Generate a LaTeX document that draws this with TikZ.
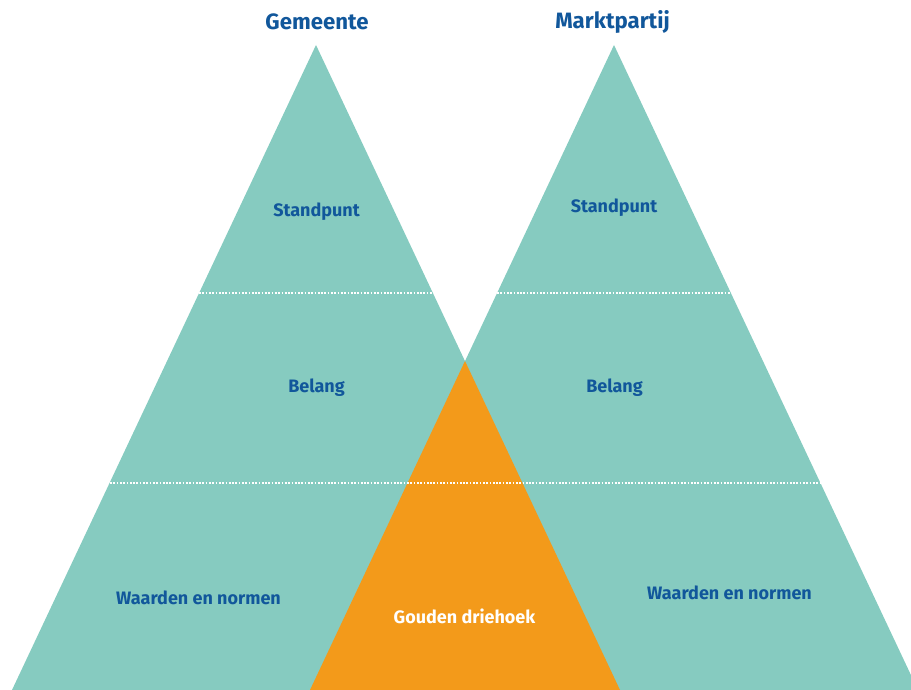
\documentclass[tikz,border=0pt]{standalone}
\usepackage{fontspec}
\setmainfont{Fira Sans}
\definecolor{teal}{HTML}{86CBC0}
\definecolor{gold}{HTML}{F39A1A}
\definecolor{navy}{HTML}{11579B}
\begin{document}
\begin{tikzpicture}[x=1pt,y=-1pt,
  title/.style={font=\fontsize{22.2}{24}\selectfont\bfseries, text=navy, inner sep=0pt},
  lbl/.style={font=\fontsize{18}{20}\selectfont\bfseries, text=navy, inner sep=0pt},
  wlbl/.style={font=\fontsize{18}{20}\selectfont\bfseries, text=white, inner sep=0pt},
  sep/.style={draw=white, line width=1.5pt, dash pattern=on 1.7pt off 1.6pt}]
\useasboundingbox (0,0) rectangle (911,690);
\clip (0,0) rectangle (911,690);
% triangles
\fill[teal] (316,45) -- (12,690) -- (620,690) -- cycle;
\fill[teal] (614,45) -- (310,690) -- (918,690) -- cycle;
\fill[gold] (465,361) -- (310,690) -- (620,690) -- cycle;
% separators
\coordinate (l1) at (199,293); \coordinate (r1) at (433,293);
\coordinate (l2) at (497,293); \coordinate (r2) at (731,293);
\coordinate (l3) at (110,483); \coordinate (r3) at (820,483);
\draw[sep] (l1) -- (r1);
\draw[sep] (l2) -- (r2);
\draw[sep] (l3) -- (r3);
% labels
\node[title] (g) at (317,22) {Gemeente};
\node[title] (m) at (612.5,22) {Marktpartij};
\node[lbl] (s1) at (316.5,212) {Standpunt};
\node[lbl] (s2) at (614,208) {Standpunt};
\node[lbl] (b1) at (316.5,388) {Belang};
\node[lbl] (b2) at (614.5,388) {Belang};
\node[lbl] (w1) at (198.5,598) {Waarden en normen};
\node[lbl] (w2) at (729.5,593) {Waarden en normen};
\node[wlbl] (gd) at (464.5,616) {Gouden driehoek};
\end{tikzpicture}
\end{document}
